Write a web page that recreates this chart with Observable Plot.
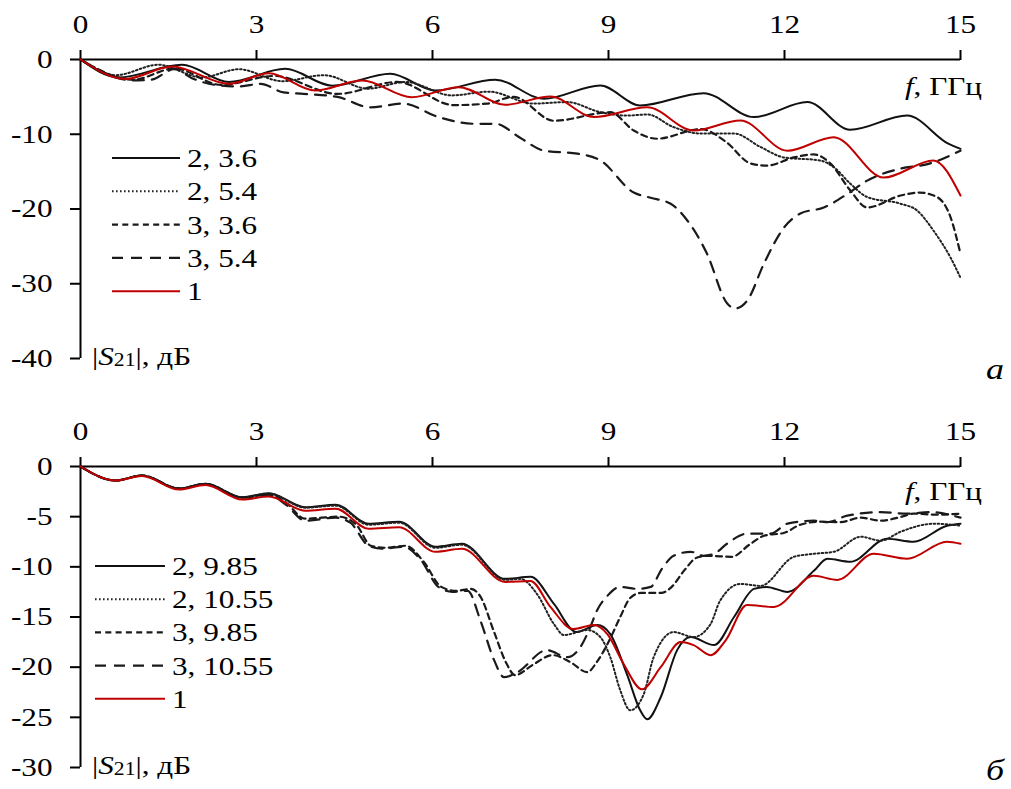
<!DOCTYPE html>
<html><head><meta charset="utf-8">
<script src="https://cdn.jsdelivr.net/npm/d3@7"></script>
<script src="https://cdn.jsdelivr.net/npm/@observablehq/plot@0.6"></script>
<style>
html,body{margin:0;padding:0;background:#fff;}
#chart svg{display:block;}
</style></head><body><div id="chart"></div>
<script>
// ---------- tick values ----------
const xTicks = [0, 3, 6, 9, 12, 15];
const yTicksA = [0, -10, -20, -30, -40];
const yTicksB = [0, -5, -10, -15, -20, -25, -30];

// ---------- legend names ----------
const namesA = ["2, 3.6", "2, 5.4", "3, 3.6", "3, 5.4", "1"];
const namesB = ["2, 9.85", "2, 10.55", "3, 9.85", "3, 10.55", "1"];

// ---------- panel a: [f GHz, |S21| dB] ----------
const a_2_36 = [[0,0],[0.65,-2.4],[1.73,-0.7],[2.53,-3.0],[3.49,-1.25],[4.29,-3.5],[5.28,-1.9],[6.05,-4.15],[7.07,-2.7],[7.9,-5.26],[8.86,-3.48],[9.54,-6.15],[10.62,-4.5],[11.48,-7.7],[12.39,-5.7],[13.12,-9.4],[14.09,-7.5],[14.8,-11.3],[15,-11.95]];
const a_2_54 = [[0,0],[0.6,-2.1],[1.33,-0.7],[2.07,-2.4],[2.7,-1.3],[3.44,-2.9],[4.15,-2.1],[4.9,-3.9],[5.54,-3.0],[6.33,-4.8],[6.96,-4.3],[7.72,-5.9],[8.3,-5.7],[8.86,-7.05],[9.32,-7.5],[9.66,-7.35],[10.11,-9.05],[10.57,-9.9],[11.14,-9.9],[11.59,-11.7],[11.99,-13.1],[12.6,-13.5],[12.84,-14.4],[13.12,-16.6],[13.41,-18.4],[13.98,-19.3],[14.26,-20.2],[14.54,-22.9],[14.83,-26.5],[15,-29.2]];
const a_3_36 = [[0,0],[0.9,-2.7],[1.6,-1.2],[2.4,-3.4],[3.3,-2.2],[4.38,-4.6],[5.4,-3.0],[6.36,-6.1],[6.93,-5.9],[7.38,-5.0],[8.07,-8.2],[9.03,-7.05],[9.43,-9.5],[9.83,-10.6],[10.57,-9.3],[11.0,-11.0],[11.42,-13.9],[11.7,-14.2],[12.16,-13.1],[12.5,-12.7],[12.78,-13.9],[13.12,-17.5],[13.41,-19.8],[13.98,-18.2],[14.3,-17.8],[14.6,-18.4],[14.83,-21.1],[15,-26]];
const a_3_54 = [[0,0],[0.9,-2.8],[1.2,-2.7],[1.6,-1.3],[1.9,-2.5],[2.3,-3.4],[2.7,-3.6],[3.07,-3.25],[3.46,-4.4],[3.8,-4.6],[4.38,-5.0],[4.94,-6.4],[5.5,-5.9],[6.1,-7.7],[6.73,-8.6],[7.07,-8.6],[7.5,-10.5],[7.9,-12.2],[8.47,-12.6],[8.86,-13.5],[9.43,-17.8],[9.72,-18.5],[10.06,-19.3],[10.34,-21.5],[10.68,-26],[11.02,-32.6],[11.16,-33.3],[11.37,-32.2],[11.65,-27.3],[11.99,-22.5],[12.27,-20.6],[12.67,-19.8],[13.07,-18],[13.41,-16.2],[13.98,-14.6],[14.44,-14],[15,-12.2]];
const a_1 = [[0,0],[0.77,-2.6],[1.56,-0.94],[2.53,-3.25],[3.21,-1.83],[4.0,-4.15],[4.8,-2.8],[5.65,-5.04],[6.45,-3.7],[7.24,-6.06],[8.01,-4.95],[8.75,-7.7],[9.66,-6.4],[10.45,-9.5],[11.25,-8.16],[12.05,-12.2],[12.84,-10.4],[13.69,-15.8],[14.54,-13.5],[15,-18.2]];

// ---------- panel б ----------
const b_2_985 = [[0,0],[0.6,-1.4],[1.05,-0.9],[1.68,-2.2],[2.13,-1.73],[2.76,-3.06],[3.21,-2.66],[3.83,-4.06],[4.35,-3.8],[4.91,-5.7],[5.43,-5.5],[6.05,-8.0],[6.5,-7.7],[7.24,-11.2],[7.67,-11.0],[8.07,-13.7],[8.45,-16.5],[8.81,-15.8],[9.03,-16.7],[9.32,-20.8],[9.54,-24.3],[9.66,-25.2],[9.89,-23],[10.17,-18.3],[10.4,-17.0],[10.8,-17.8],[11.14,-15.0],[11.48,-12.2],[11.7,-12.0],[12.05,-12.5],[12.5,-10.4],[12.73,-9.2],[13.12,-9.5],[13.75,-7.2],[14.2,-7.5],[14.77,-5.9],[15,-5.7]];
const b_2_1055 = [[0,0],[0.6,-1.4],[1.05,-0.9],[1.68,-2.2],[2.13,-1.73],[2.76,-3.06],[3.21,-2.7],[3.83,-4.1],[4.35,-3.9],[4.91,-5.8],[5.43,-5.6],[6.05,-8.1],[6.5,-7.8],[7.24,-11.3],[7.5,-11.2],[7.78,-12.7],[8.07,-15.7],[8.24,-16.8],[8.64,-16.3],[8.86,-17.0],[9.03,-19.0],[9.2,-22.3],[9.37,-24.3],[9.6,-22.7],[9.77,-19.0],[10.11,-16.5],[10.45,-17.0],[10.74,-15.7],[10.9,-13.4],[11.25,-11.7],[11.59,-11.9],[12.16,-9.0],[12.5,-8.7],[12.84,-8.5],[13.3,-7.0],[13.64,-7.4],[13.98,-6.5],[14.55,-5.7],[15,-5.9]];
const b_3_985 = [[0,0],[0.6,-1.4],[1.05,-0.9],[1.68,-2.2],[2.13,-1.75],[2.76,-3.1],[3.21,-2.8],[3.5,-3.6],[3.83,-5.2],[4.4,-5.0],[4.7,-5.8],[4.95,-7.9],[5.2,-8.1],[5.54,-7.9],[5.85,-9.5],[6.15,-12.0],[6.4,-12.4],[6.65,-12.2],[6.82,-13.0],[7.05,-16.5],[7.25,-19.5],[7.41,-20.8],[7.7,-19.8],[8.05,-18.8],[8.35,-19.5],[8.64,-20.5],[8.8,-19.5],[9.0,-17.5],[9.2,-15.0],[9.37,-13.1],[9.55,-12.6],[9.9,-12.6],[10.06,-12.1],[10.3,-10.3],[10.5,-9.1],[10.7,-8.9],[11.1,-9.0],[11.4,-7.8],[11.65,-6.9],[12.0,-6.6],[12.27,-5.8],[12.6,-5.5],[12.95,-5.55],[13.3,-5.1],[13.64,-5.4],[14.0,-5.0],[14.2,-4.7],[14.6,-4.8],[15,-4.7]];
const b_3_1055 = [[0,0],[0.6,-1.4],[1.05,-0.9],[1.68,-2.2],[2.13,-1.75],[2.76,-3.1],[3.21,-2.8],[3.5,-3.8],[3.83,-5.4],[4.35,-5.1],[4.6,-5.6],[4.91,-7.9],[5.14,-8.2],[5.5,-8.0],[5.8,-9.3],[6.1,-12.0],[6.34,-12.5],[6.6,-12.4],[6.82,-15.4],[7.05,-19.3],[7.22,-21.0],[7.45,-20.5],[7.95,-18.3],[8.3,-19.0],[8.52,-18.0],[8.69,-16.0],[8.8,-14.4],[8.98,-12.9],[9.2,-12.0],[9.49,-12.2],[9.72,-12.0],[9.91,-10.2],[10.11,-8.9],[10.4,-8.5],[10.62,-8.9],[10.8,-8.7],[11.02,-7.7],[11.36,-6.7],[11.76,-6.7],[12.05,-5.7],[12.5,-5.4],[12.73,-5.55],[13.07,-4.9],[13.64,-4.55],[14.09,-4.7],[14.49,-4.55],[15,-5.1]];
const b_1 = [[0,0],[0.6,-1.4],[1.05,-0.95],[1.68,-2.3],[2.13,-1.85],[2.76,-3.3],[3.21,-3.0],[3.83,-4.4],[4.35,-4.2],[4.91,-6.2],[5.43,-6.05],[6.05,-8.5],[6.5,-8.2],[7.24,-11.5],[7.67,-11.4],[8.01,-14.0],[8.4,-16.2],[8.75,-15.8],[8.98,-16.7],[9.26,-19.7],[9.57,-22.2],[9.89,-20.0],[10.23,-17.5],[10.45,-17.8],[10.74,-18.8],[11.0,-17.3],[11.36,-13.8],[11.82,-14.0],[12.5,-10.9],[12.9,-11.3],[13.52,-8.7],[14.09,-9.2],[14.77,-7.5],[15,-7.7]];

// ---------- styles (solid, dotted, short dash, long dash, red) ----------
const styles = [
  {stroke: "#111", dash: null, w: 2},
  {stroke: "#222", dash: "1.6,2.4", w: 2},
  {stroke: "#1a1a1a", dash: "6,4.3", w: 2.2},
  {stroke: "#1a1a1a", dash: "11,8", w: 2.2},
  {stroke: "#c00000", dash: null, w: 2}
];
const FONT = "'Liberation Serif', 'Times New Roman', serif";
const STRETCH = 1.2;

function panel({data, names, yDomain, yTicks, height, marginTop, marginBottom, legend, fLabelY, sLabelY, letter, letterY}) {
  const marks = [
    Plot.ruleY([0], {stroke: "#000", strokeWidth: 2}),
    Plot.ruleX([0], {stroke: "#000", strokeWidth: 2}),
    Plot.axisX(xTicks, {anchor: "top", tickSize: 10, tickPadding: 17, strokeWidth: 2, tickFormat: d => String(d)}),
    Plot.axisY(yTicks, {anchor: "left", tickSize: 10, tickPadding: 18, strokeWidth: 2, tickFormat: d => String(d)})
  ];
  data.forEach((s, i) => {
    const st = styles[i];
    const rows = s.map(([f, v]) => ({f, v}));
    marks.push(Plot.line(rows, {x: "f", y: "v", curve: "monotone-x", stroke: st.stroke, strokeWidth: st.w, strokeDasharray: st.dash || undefined}));
  });
  const svg = Plot.plot({
    width: 1011, height, marginLeft: 80, marginRight: 51, marginTop, marginBottom,
    x: {domain: [0, 15], label: null},
    y: {domain: yDomain, label: null},
    style: {fontFamily: FONT, fontSize: "26px", color: "#000", background: "#fff", overflow: "visible"},
    marks
  });
  const g = d3.select(svg).append("g").attr("font-family", FONT).attr("font-size", 26)
    .attr("fill", "#000").attr("text-anchor", "start");
  names.forEach((n, i) => {
    const y = legend.y0 + i * legend.dy;
    const st = styles[i];
    g.append("line").attr("x1", legend.x1).attr("x2", legend.x2).attr("y1", y).attr("y2", y)
      .attr("stroke", st.stroke).attr("stroke-width", st.w).attr("stroke-dasharray", st.dash);
    g.append("text").attr("x", legend.x2 + 7).attr("y", y + 9).attr("text-anchor", "start").text(n);
  });
  const f = g.append("text").attr("x", 982).attr("y", fLabelY).attr("text-anchor", "end");
  f.append("tspan").attr("font-style", "italic").text("f");
  f.append("tspan").text(", ГГц");
  const s = g.append("text").attr("x", 92).attr("y", sLabelY).attr("text-anchor", "start");
  s.append("tspan").text("|");
  s.append("tspan").attr("font-style", "italic").text("S");
  s.append("tspan").attr("font-size", 18).attr("dy", 1).text("21");
  s.append("tspan").attr("dy", -1).text("|, дБ");
  g.append("text").attr("x", 1004).attr("y", letterY).attr("text-anchor", "end")
    .attr("font-style", "italic").attr("font-size", 30).text(letter);
  return svg;
}

const root = document.getElementById("chart");
const svgA = panel({
  data: [a_2_36, a_2_54, a_3_36, a_3_54, a_1], names: namesA,
  yDomain: [-40, 0], yTicks: yTicksA, height: 395, marginTop: 59, marginBottom: 37,
  legend: {x1: 112, x2: 180, y0: 158, dy: 33.3}, fLabelY: 95, sLabelY: 365, letter: "а", letterY: 379
});
const svgB = panel({
  data: [b_2_985, b_2_1055, b_3_985, b_3_1055, b_1], names: namesB,
  yDomain: [-30, 0], yTicks: yTicksB, height: 394, marginTop: 71, marginBottom: 22,
  legend: {x1: 95, x2: 165, y0: 171, dy: 33.2}, fLabelY: 105, sLabelY: 379, letter: "б", letterY: 385
});
root.appendChild(svgA);
root.appendChild(svgB);

// widen glyphs to match the reference's horizontally stretched lettering
document.querySelectorAll("#chart svg text").forEach(t => {
  const w = t.getComputedTextLength();
  if (w > 0) {
    t.setAttribute("textLength", (w * STRETCH).toFixed(1));
    t.setAttribute("lengthAdjust", "spacingAndGlyphs");
  }
});
</script></body></html>
